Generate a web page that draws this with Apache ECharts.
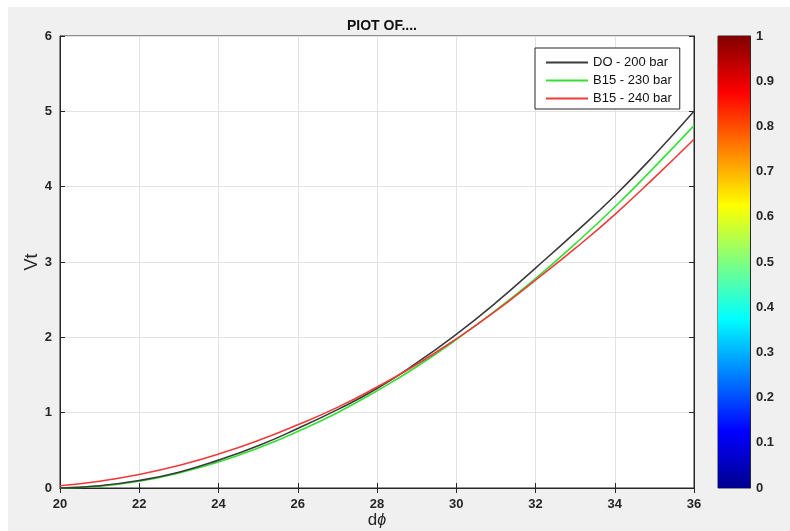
<!DOCTYPE html>
<html>
<head>
<meta charset="utf-8">
<script src="https://cdn.jsdelivr.net/npm/echarts@6/dist/echarts.min.js"></script>
<style>html,body{margin:0;padding:0;background:#f0f0f0;}#c{width:790px;height:531px;}</style>
</head>
<body>
<div id="c"></div>
<script>
const xValues = [20,21,22,23,24,25,26,27,28,29,30,31,32,33,34,35,36];
const doValues  = [0,0.03,0.10,0.21,0.37,0.56,0.79,1.04,1.32,1.66,2.04,2.46,2.92,3.39,3.88,4.42,5.00];
const b230Values = [0,0.025,0.09,0.20,0.345,0.53,0.75,1.00,1.29,1.61,1.97,2.36,2.78,3.24,3.73,4.26,4.81];
const b240Values = [0.03,0.09,0.18,0.30,0.45,0.63,0.84,1.07,1.34,1.64,1.98,2.35,2.76,3.18,3.63,4.12,4.63];
const seriesNames = ['DO - 200 bar','B15 - 230 bar','B15 - 240 bar'];
const xTicks = {min:20, max:36, interval:2};
const yTicks = {min:0, max:6, interval:1};
const cbTicks = {min:0, max:1, interval:0.1};

const pairs = ys => xValues.map((x,i)=>[x, ys[i]]);
const txt = '#262626';
const chart = echarts.init(document.getElementById('c'), null, {renderer:'canvas'});
const lab = {color:txt, fontSize:13, fontWeight:'bold', fontFamily:'Liberation Sans, Arial, sans-serif'};
chart.setOption({
  animation:false,
  backgroundColor:'#f0f0f0',
  graphic:[
    {type:'rect', shape:{x:0,y:0,width:790,height:7}, style:{fill:'#ffffff'}, silent:true},
    {type:'rect', shape:{x:0,y:0,width:8,height:531}, style:{fill:'#ffffff'}, silent:true}
  ],
  title:{text:'PIOT OF....', left:377, top:14, textAlign:'center',
    textStyle:{fontSize:14, fontWeight:'bold', color:'#111', fontFamily:'Liberation Sans, Arial, sans-serif'}},
  legend:{
    data:seriesNames, orient:'vertical', left:535, top:48,
    backgroundColor:'#ffffff', borderColor:txt, borderWidth:1,
    padding:[8,8,4,10], itemWidth:42, itemHeight:12, itemGap:5,
    itemStyle:{opacity:0},
    textStyle:{fontSize:13, color:'#111', fontFamily:'Liberation Sans, Arial, sans-serif'}
  },
  grid:[
    {left:60, top:36, width:634, height:452, show:true, backgroundColor:'#ffffff', borderColor:txt, borderWidth:1,
     containLabel:false, outerBoundsMode:'none'},
    {left:718, top:36, width:32, height:452, show:true, borderColor:txt, borderWidth:1,
     containLabel:false, outerBoundsMode:'none'}
  ],
  xAxis:[
    {type:'value', gridIndex:0, min:xTicks.min, max:xTicks.max, interval:xTicks.interval,
     name:'d{p|\u03d5}', nameLocation:'middle', nameGap:24, nameMoveOverlap:false,
     nameTextStyle:{fontSize:17, color:txt, fontFamily:'Liberation Sans, Arial, sans-serif',
       rich:{p:{fontSize:16, fontStyle:'italic', color:txt}}},
     axisLine:{show:true, lineStyle:{color:txt}}, axisTick:{inside:true, length:5, lineStyle:{color:txt}},
     axisLabel:Object.assign({margin:10}, lab),
     splitLine:{show:true, lineStyle:{color:'#e3e3e3'}}},
    {type:'value', gridIndex:0, position:'top', min:xTicks.min, max:xTicks.max, interval:xTicks.interval,
     axisLine:{show:true, lineStyle:{color:txt}}, axisTick:{inside:true, length:5, lineStyle:{color:txt}},
     axisLabel:{show:false}, splitLine:{show:false}},
    {type:'category', gridIndex:1, data:[''], show:false}
  ],
  yAxis:[
    {type:'value', gridIndex:0, min:yTicks.min, max:yTicks.max, interval:yTicks.interval,
     name:'Vt', nameLocation:'middle', nameGap:19, nameMoveOverlap:false,
     nameTextStyle:{fontSize:18, color:txt, fontFamily:'Liberation Sans, Arial, sans-serif'},
     axisLine:{show:true, lineStyle:{color:txt}}, axisTick:{inside:true, length:5, lineStyle:{color:txt}},
     axisLabel:Object.assign({margin:8}, lab),
     splitLine:{show:true, lineStyle:{color:'#e3e3e3'}}},
    {type:'value', gridIndex:0, position:'right', min:yTicks.min, max:yTicks.max, interval:yTicks.interval,
     axisLine:{show:true, lineStyle:{color:txt}}, axisTick:{inside:true, length:5, lineStyle:{color:txt}},
     axisLabel:{show:false}, splitLine:{show:false}},
    {type:'value', gridIndex:1, position:'right', min:cbTicks.min, max:cbTicks.max, interval:cbTicks.interval,
     axisLine:{show:true, lineStyle:{color:txt}}, axisTick:{inside:true, length:4, lineStyle:{color:txt}},
     axisLabel:Object.assign({margin:6, formatter:v=>String(Math.round(v*10)/10)}, lab),
     splitLine:{show:false}}
  ],
  series:[
    {name:seriesNames[0], type:'line', xAxisIndex:0, yAxisIndex:0, data:pairs(doValues), smooth:true,
     symbol:'none', lineStyle:{color:'#3a3a3a', width:1.6}, itemStyle:{color:'#3a3a3a'}, z:3},
    {name:seriesNames[1], type:'line', xAxisIndex:0, yAxisIndex:0, data:pairs(b230Values), smooth:true,
     symbol:'none', lineStyle:{color:'#33e033', width:1.6}, itemStyle:{color:'#33e033'}, z:2},
    {name:seriesNames[2], type:'line', xAxisIndex:0, yAxisIndex:0, data:pairs(b240Values), smooth:true,
     symbol:'none', lineStyle:{color:'#f03a3a', width:1.6}, itemStyle:{color:'#f03a3a'}, z:4},
    {name:'colorbar', type:'bar', xAxisIndex:2, yAxisIndex:2, data:[cbTicks.max], barWidth:'100%', silent:true,
     itemStyle:{color:{type:'linear', x:0, y:1, x2:0, y2:0, colorStops:[
       {offset:0, color:'#00008f'}, {offset:0.125, color:'#0000ff'}, {offset:0.375, color:'#00ffff'},
       {offset:0.625, color:'#ffff00'}, {offset:0.875, color:'#ff0000'}, {offset:1, color:'#800000'}]}}}
  ]
});
</script>
</body>
</html>
